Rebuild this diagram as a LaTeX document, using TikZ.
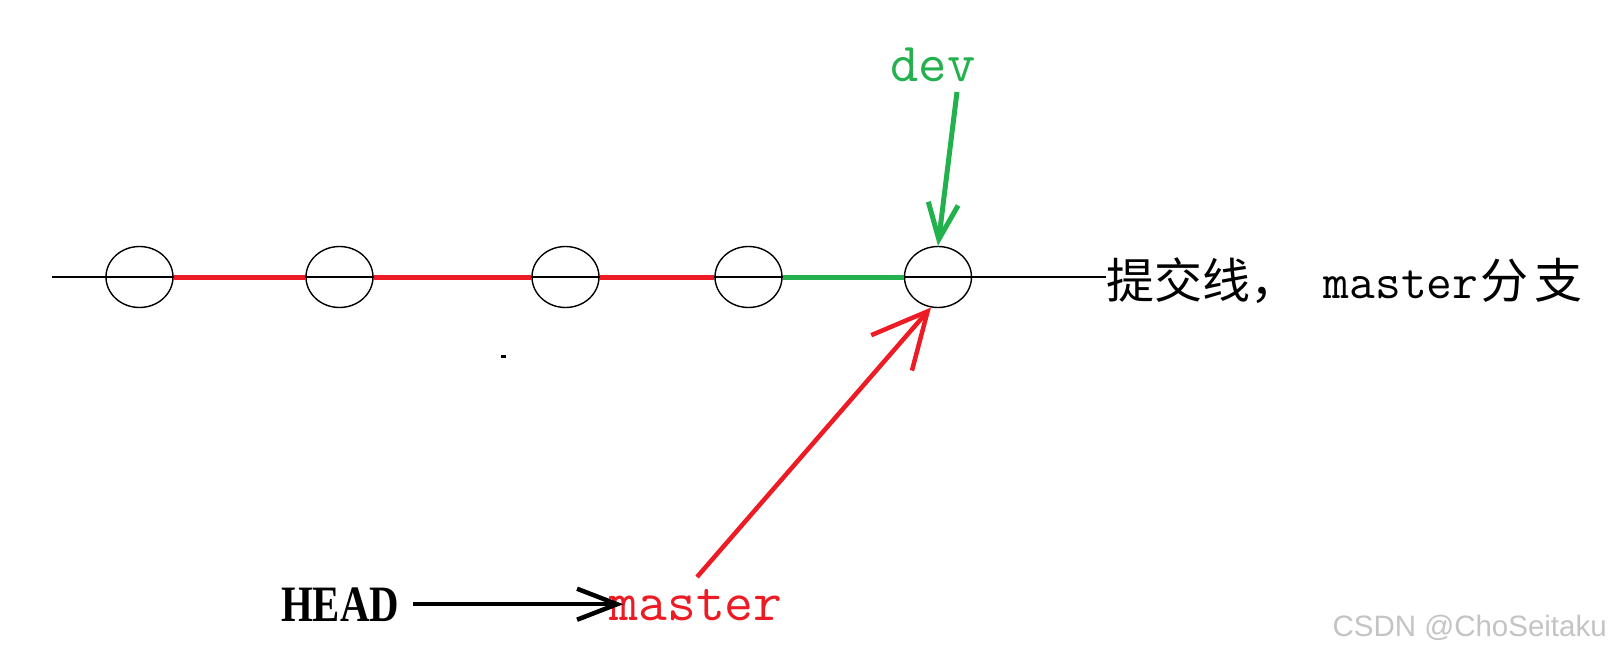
\documentclass[tikz,border=0pt]{standalone}
\usepackage{fontspec}
\setmainfont{Liberation Serif}
\setsansfont{Liberation Sans}
\newfontfamily\cjk{Noto Sans CJK SC}
\usetikzlibrary{arrows.meta,shapes.geometric}
\definecolor{pred}{RGB}{237,28,36}
\definecolor{pgreen}{RGB}{34,177,76}
\definecolor{wmgray}{RGB}{196,196,196}
\tikzset{
  commit/.style={ellipse, draw=black, line width=1.4pt, minimum width=67pt, minimum height=61pt, inner sep=0pt},
  mainline/.style={draw=black, line width=2pt},
  redseg/.style={draw=pred, line width=5pt},
  greenseg/.style={draw=pgreen, line width=5pt},
  redptr/.style={draw=pred, line width=4.5pt, -{Straight Barb[length=55pt,width=54pt,line width=4.5pt]}},
  greenptr/.style={draw=pgreen, line width=5pt, -{Straight Barb[length=36pt,width=30pt,line width=5pt]}},
  headptr/.style={draw=black, line width=4pt, -{Straight Barb[length=40pt,width=31pt,line width=4.5pt]}},
  devtxt/.style={text=pgreen, inner sep=0pt, font=\ttfamily\fontsize{55}{55}\selectfont},
  mastertxt/.style={text=pred, inner sep=0pt, font=\ttfamily\fontsize{56}{56}\selectfont},
  headtxt/.style={text=black, inner sep=0pt, font=\bfseries\fontsize{51}{51}\selectfont},
  lbltxt/.style={text=black, inner sep=0pt, font=\fontsize{48}{48}\selectfont},
  wmtxt/.style={text=wmgray, inner sep=0pt, font=\sffamily\fontsize{29.5}{29.5}\selectfont}
}
\begin{document}
\begin{tikzpicture}[x=1pt,y=-1pt]
\useasboundingbox[fill=white] (0,0) rectangle (1620,658);
% commits
\node[commit] (c1) at (139.5,277) {};
\node[commit] (c2) at (339.5,277) {};
\node[commit] (c3) at (565.5,277) {};
\node[commit] (c4) at (748.5,277) {};
\node[commit] (c5) at (938,277) {};
% label
\node[lbltxt, anchor=base west] (lbl) at (1106,298) {{\cjk 提交线，}{\ttfamily\fontsize{50}{50}\selectfont\ master}{\cjk\hspace{2pt}分\hspace{6pt}支}};
\coordinate (L) at (52,277);
\draw[mainline] (L) -- (L -| lbl.west);
\draw[redseg] (c1.east) -- (c2.west);
\draw[redseg] (c2.east) -- (c3.west);
\draw[redseg] (c3.east) -- (c4.west);
\draw[greenseg] (c4.east) -- (c5.west);
% dev
\node[devtxt, anchor=base] (dev) at (933,82) {dev};
\coordinate (gtail) at (957,92);
\draw[greenptr] (gtail) -- (c5.north);
% HEAD -> master
\node[headtxt, anchor=base] (head) at (340,621) {\scalebox{0.8}[1]{HEAD}};
\node[mastertxt, anchor=base] (master) at (696,620) {master};
\draw[headptr] ([xshift=14pt]head.east) -- ([xshift=14pt]head.east -| master.west);
\coordinate (rtail) at (697,577);
\draw[redptr] (rtail) -- (c5.257);
% stray dot
\fill[black] (501,355) rectangle (506,358);
% watermark
\node[wmtxt, anchor=base east] (wm) at (1607,636) {CSDN @ChoSeitaku};
\end{tikzpicture}
\end{document}
